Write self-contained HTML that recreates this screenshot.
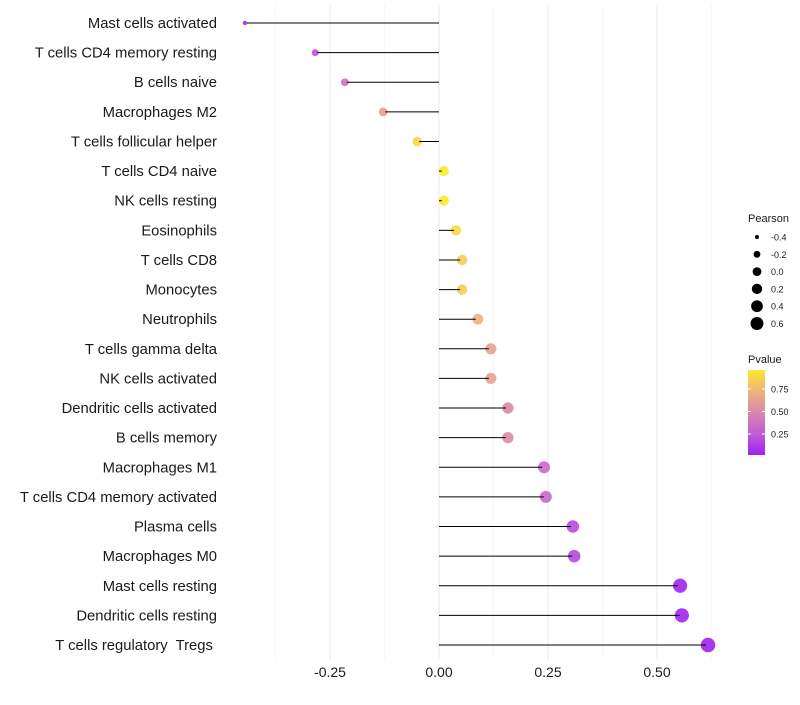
<!DOCTYPE html>
<html><head><meta charset="utf-8"><style>
body{margin:0;background:#fff;font-family:"Liberation Sans",sans-serif}
</style></head><body>
<svg id="chart" width="800" height="700" xmlns="http://www.w3.org/2000/svg" font-family="Liberation Sans, sans-serif"></svg>
<script>
const categories=["Mast cells activated","T cells CD4 memory resting","B cells naive","Macrophages M2","T cells follicular helper","T cells CD4 naive","NK cells resting","Eosinophils","T cells CD8","Monocytes","Neutrophils","T cells gamma delta","NK cells activated","Dendritic cells activated","B cells memory","Macrophages M1","T cells CD4 memory activated","Plasma cells","Macrophages M0","Mast cells resting","Dendritic cells resting","T cells regulatory  Tregs"];
const pearson=[-0.445,-0.284,-0.216,-0.128,-0.050,0.011,0.011,0.039,0.053,0.053,0.089,0.119,0.119,0.158,0.158,0.241,0.245,0.307,0.310,0.553,0.557,0.617];
const pvalues=[0.03,0.2,0.36,0.62,0.88,0.97,0.97,0.9,0.84,0.84,0.72,0.62,0.62,0.5,0.5,0.32,0.3,0.17,0.16,0.02,0.02,0.005];
const xTicks=[-0.25,0,0.25,0.5];
const xTickLabels=["-0.25","0.00","0.25","0.50"];
const sizeLegend=[-0.4,-0.2,0.0,0.2,0.4,0.6];
const colorTicks=[0.25,0.5,0.75];

const NS="http://www.w3.org/2000/svg";
const svg=document.getElementById('chart');
function el(t,a,p){const e=document.createElementNS(NS,t);for(const k in a)e.setAttribute(k,a[k]);(p||svg).appendChild(e);return e;}
const x=v=>439+v*436;
const y=i=>23+i*(645-23)/21;
const r=v=>Math.sqrt(Math.max(2,25+45.4*v));
const rl=v=>Math.sqrt(Math.max(1.5,19.2+38*v));
const stops=[[0,[160,32,240]],[0.25,[196,94,212]],[0.5,[218,138,170]],[0.75,[238,185,120]],[1,[255,240,30]]];
function col(p){for(let i=1;i<stops.length;i++){if(p<=stops[i][0]){const a=stops[i-1],b=stops[i],t=(p-a[0])/(b[0]-a[0]);return 'rgb('+a[1].map((c,j)=>Math.round(c+(b[1][j]-c)*t)).join(',')+')';}}return 'rgb(255,240,30)';}

const g=el('g',{});
[-0.375,-0.125,0.125,0.375,0.625].forEach(v=>el('line',{x1:x(v),x2:x(v),y1:5,y2:660,stroke:'#f2f2f2','stroke-width':0.6},g));
xTicks.forEach(v=>el('line',{x1:x(v),x2:x(v),y1:5,y2:660,stroke:'#ebebeb','stroke-width':1.1},g));
categories.forEach((c,i)=>{
 const t=el('text',{x:217,y:y(i)+5,'text-anchor':'end','font-size':14.8,fill:'#1a1a1a'});t.style.whiteSpace='pre';t.textContent=c+(i===categories.length-1?' ':'');
 
 const pt=el('circle',{cx:x(pearson[i]),cy:y(i),r:r(pearson[i]),fill:col(pvalues[i]),'fill-opacity':0.9});
 
 const ln=el('line',{x1:x(0),x2:x(pearson[i])-(pearson[i]>0?2:-2),y1:y(i),y2:y(i),stroke:'#000','stroke-width':1});
 
});
xTicks.forEach((v,i)=>{const t=el('text',{x:x(v),y:677,'text-anchor':'middle','font-size':14,fill:'#1a1a1a'});t.textContent=xTickLabels[i];
 });
const lt=el('text',{x:748,y:222,'font-size':11,fill:'#1a1a1a'});lt.textContent='Pearson';

sizeLegend.forEach((v,i)=>{const cy=237+i*17.3;
 const c=el('circle',{cx:757,cy:cy,r:rl(v),fill:'#000'});
 const t=el('text',{x:771,y:cy+3.5,'font-size':9,fill:'#1a1a1a'});t.textContent=v.toFixed(1);
 });
const ct=el('text',{x:748,y:363,'font-size':11,fill:'#1a1a1a'});ct.textContent='Pvalue';

const defs=el('defs',{});const lg=el('linearGradient',{id:'pg',x1:0,y1:1,x2:0,y2:0},defs);
[0,0.25,0.5,0.75,1].forEach(s=>el('stop',{offset:s,'stop-color':col(0.003+s*(0.96-0.003))},lg));
const bar=el('rect',{x:748,y:370,width:17,height:85,fill:'url(#pg)'});
const cy=v=>456.5-v*90;
colorTicks.forEach(v=>{el('line',{x1:748,x2:751,y1:cy(v),y2:cy(v),stroke:'#fff'});el('line',{x1:762,x2:765,y1:cy(v),y2:cy(v),stroke:'#fff'});
 const t=el('text',{x:771,y:cy(v)+3.5,'font-size':9,fill:'#1a1a1a'});t.textContent=v.toFixed(2);
 });
</script>
</body></html>
